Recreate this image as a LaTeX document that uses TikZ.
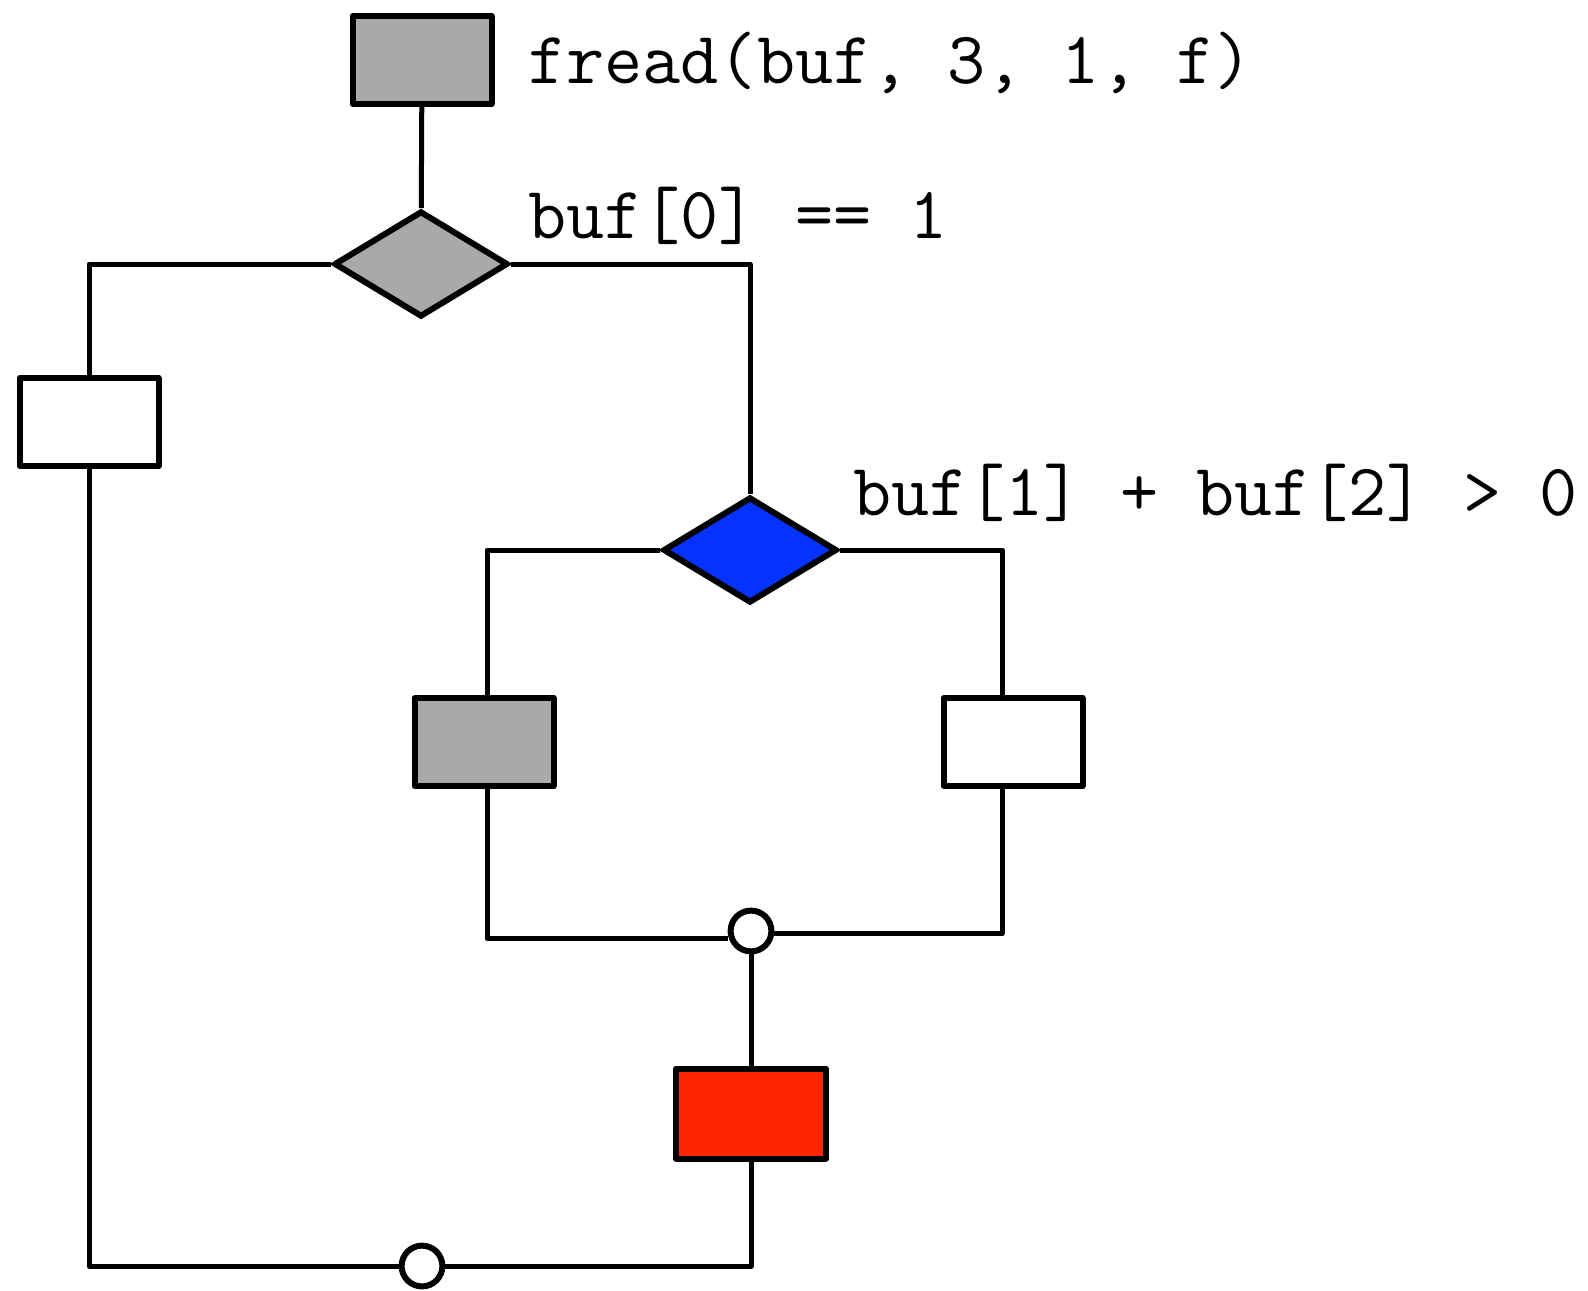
\documentclass[tikz,border=0pt]{standalone}
\usepackage{xcolor}
\usetikzlibrary{shapes.geometric}
\definecolor{blockgray}{HTML}{A9A9A9}
\definecolor{condblue}{HTML}{0433FF}
\definecolor{hitred}{HTML}{FF2600}

\begin{document}
\begin{tikzpicture}[x=0.5pt, y=-0.5pt,
  block/.style={draw, line width=3pt, line join=round, fill=white, minimum width=69.5pt, minimum height=44pt, inner sep=0pt},
  cond/.style={draw, diamond, line width=3pt, aspect=1.64, minimum width=87pt, minimum height=53pt, inner sep=0pt},
  merge/.style={draw, circle, line width=3pt, fill=white, minimum size=20.4pt, inner sep=0pt},
  link/.style={line width=2.5pt, line join=round},
  code/.style={font=\fontsize{37}{40}\selectfont\ttfamily, anchor=base west, inner sep=0pt}]
\useasboundingbox (0,0) rectangle (1588,1290);

% blocks and branches
\node (Read) at (422,60) [block, fill=blockgray] {};
\node (C0) at (421,264) [cond, fill=blockgray] {};
\node (Else0) at (89,422) [block] {};
\node (C1) at (750,550) [cond, fill=condblue] {};
\node (Then1) at (484,742) [block, fill=blockgray] {};
\node (Else1) at (1013,742) [block] {};
\node (J1) at (751,931) [merge] {};
\node (Hit) at (751,1113.5) [block, fill=hitred, minimum width=75pt, minimum height=45pt] {};
\node (J0) at (422,1266) [merge] {};

% conditions
\node (ReadLbl) at (528,83) [code] {fread(buf, 3, 1, f)};
\node (C0Lbl) at (528,238) [code] {buf[0] == 1};
\node (C1Lbl) at (853,515) [code] {buf[1] + buf[2] > 0};

\draw [link] (Read) -- (C0);
\draw [link] (C0.west) -| (Else0.north);
\draw [link] (C0.east) -| (C1.north);
\draw [link] (C1.west) -| ([xshift=1.5pt]Then1.north);
\draw [link] (C1.east) -| ([xshift=-5.5pt]Else1.north);
\draw [link] ([xshift=1.5pt]Then1.south) |- ([yshift=-3.8pt]J1.west);
\draw [link] ([xshift=-5.5pt]Else1.south) |- ([yshift=-1.3pt]J1.east);
\draw [link] (J1) -- (Hit);
\draw [link] (Hit.south) |- (J0.east);
\draw [link] (Else0.south) |- (J0.west);
\end{tikzpicture}
\end{document}
